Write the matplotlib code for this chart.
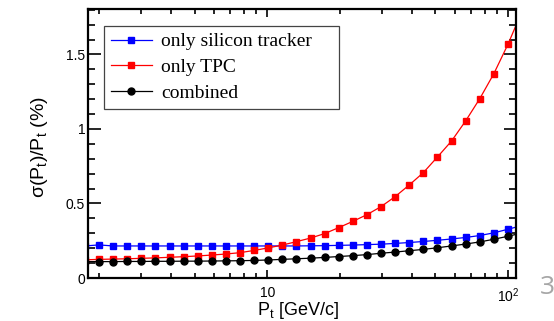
import numpy as np
import matplotlib.pyplot as plt
from matplotlib.ticker import MultipleLocator, FuncFormatter, NullFormatter, FixedLocator

plt.rcParams['font.family'] = ['Liberation Sans', 'DejaVu Sans']
plt.rcParams['mathtext.fontset'] = 'custom'
plt.rcParams['mathtext.rm'] = 'Liberation Sans'
plt.rcParams['mathtext.it'] = 'Liberation Sans:italic'

# transverse momentum points (GeV/c), first and last fall just outside the frame
pt = [1.748, 2.0, 2.289, 2.619, 2.998, 3.431, 3.926, 4.493, 5.142, 5.885, 6.735,
      7.707, 8.820, 10.09, 11.55, 13.22, 15.13, 17.31, 19.81, 22.67, 25.95, 29.70,
      33.98, 38.89, 44.51, 50.94, 58.29, 66.71, 76.35, 87.37, 100.0, 114.4]

# resolution sigma(Pt)/Pt in %
silicon = [0.215, 0.222, 0.215, 0.215, 0.215, 0.215, 0.215, 0.215, 0.215, 0.215,
           0.215, 0.215, 0.215, 0.215, 0.215, 0.215, 0.216, 0.217, 0.219, 0.221,
           0.224, 0.227, 0.232, 0.238, 0.245, 0.253, 0.262, 0.272, 0.285, 0.303,
           0.327, 0.352]
tpc = [0.122, 0.125, 0.127, 0.129, 0.132, 0.135, 0.139, 0.143, 0.148, 0.154,
       0.161, 0.170, 0.185, 0.202, 0.221, 0.244, 0.268, 0.298, 0.338, 0.380,
       0.425, 0.479, 0.546, 0.624, 0.707, 0.812, 0.919, 1.054, 1.203, 1.371,
       1.568, 1.79]
combined = [0.110, 0.110, 0.110, 0.111, 0.111, 0.112, 0.112, 0.113, 0.113, 0.114,
            0.115, 0.116, 0.118, 0.121, 0.125, 0.129, 0.133, 0.138, 0.144, 0.150,
            0.157, 0.166, 0.174, 0.183, 0.192, 0.203, 0.215, 0.228, 0.242, 0.260,
            0.280, 0.302]

labels = ["only silicon tracker", "only TPC", "combined"]
xticks = [10, 100]
xticklabels = ["10", r"$\mathregular{10^{2}}$"]

fig = plt.figure(figsize=(5.54, 3.21), dpi=100)
ax = fig.add_axes([88/554, 43/321, 428/554, 269/321])

ax.plot(pt, silicon, color='#0000ff', lw=0.9, marker='s', ms=4, label=labels[0])
ax.plot(pt, tpc, color='#ff0000', lw=0.9, marker='s', ms=4, label=labels[1])
ax.plot(pt, combined, color='black', lw=0.9, marker='o', ms=5, label=labels[2])

ax.set_xscale('log')
ax.set_xlim(1.8, 108)
ax.set_ylim(0, 1.805)

ax.xaxis.set_major_locator(FixedLocator(xticks))
ax.set_xticklabels(xticklabels)
ax.xaxis.set_minor_formatter(NullFormatter())
ax.yaxis.set_major_locator(MultipleLocator(0.5))
ax.yaxis.set_minor_locator(MultipleLocator(0.1))
ax.yaxis.set_major_formatter(FuncFormatter(lambda v, p: '%g' % v))

ax.tick_params(which='both', direction='in', top=True, right=True, width=1.2, labelsize=10)
ax.tick_params(axis='y', which='major', length=9, pad=2)
ax.tick_params(axis='y', which='minor', length=5)
ax.tick_params(axis='x', which='major', length=6, pad=6)
ax.tick_params(axis='x', which='minor', length=3.5)
for s in ax.spines.values():
    s.set_linewidth(1.6)

ax.set_xlabel(r"P$_\mathregular{t}$ [GeV/c]", fontsize=13)
ax.xaxis.set_label_coords(0.49, -0.08)
fig.text(40/554, 1 - 147/321, r"σ(P$_\mathregular{t}$)/P$_\mathregular{t}$ (%)",
         rotation=90, ha='center', va='center', fontsize=14)

leg = ax.legend(loc='upper left', bbox_to_anchor=(16/428, 252/269, 235/428, 0.0),
                mode='expand', prop={'family': 'Liberation Serif', 'size': 14},
                fancybox=False, handlelength=2.1, handletextpad=0.5,
                labelspacing=0.42, borderpad=0.35, borderaxespad=0, framealpha=1)
leg.get_frame().set_edgecolor('#444444')
leg.get_frame().set_linewidth(0.9)

# slide number
fig.text(547/554, 1 - 287/321, "3", color='#a6a6a6', fontsize=19,
         ha='center', va='center', family='Open Sans')

plt.savefig("out.png", dpi=100)
